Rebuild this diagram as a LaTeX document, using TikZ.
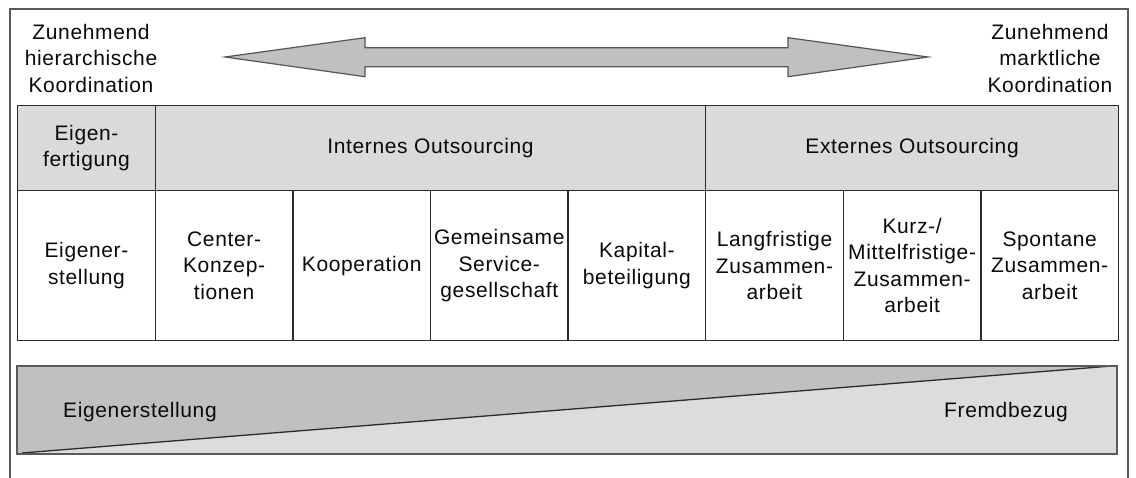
\documentclass[tikz,border=0pt]{standalone}
\usepackage{fontspec}
\setmainfont{Liberation Sans}[LetterSpace=3]
\definecolor{linecol}{HTML}{2B2B2B}
\definecolor{framecol}{HTML}{5A5A5A}
\definecolor{headfill}{HTML}{DADADA}
\definecolor{darkfill}{HTML}{C0C0C0}
\definecolor{lightfill}{HTML}{DCDCDC}
\definecolor{txtcol}{HTML}{0A0A0A}
\begin{document}
\begin{tikzpicture}[x=1pt,y=-1pt,
  every node/.style={font=\fontsize{21}{26.5}\selectfont, text=txtcol, align=center, inner sep=0pt},
  cell/.style={draw=linecol, line width=1.4pt, minimum height=150pt, minimum width=137.6pt, anchor=north west},
  headcell/.style={cell, fill=headfill, minimum height=85pt},
  arrowshape/.style={draw=linecol!80, line width=1.2pt, fill=darkfill, line join=miter},
  band/.style={draw=framecol, line width=1.2pt}
]
% canvas
\useasboundingbox (0,0) rectangle (1136,478);
\fill[white] (0,0) rectangle (1136,478);
% open frame around the figure
\draw[framecol, line width=1.3pt] (10,478) -- (10,9) -- (1128,9) -- (1128,478);

% labels at both ends of the scale
\node (hier) at (91,58) {Zunehmend\\hierarchische\\Koordination};
\node (markt) at (1050,58) {Zunehmend\\marktliche\\Koordination};

% double-headed arrow between the two poles
\coordinate (tipL) at (225,57);
\coordinate (tipR) at (928,57);
\draw[arrowshape] (tipL) -- (365,37.7) -- (365,47.7) -- (788,47.7) -- (788,37.7)
  -- (tipR) -- (788,76.7) -- (788,66.7) -- (365,66.7) -- (365,76.7) -- cycle;

% header row
\node[headcell] (eigenf) at (17,105) {Eigen-\\fertigung};
\node[headcell, minimum width=550.4pt] (intern) at (154.6,105) {Internes Outsourcing};
\node[headcell, minimum width=412.8pt] (extern) at (705,105) {Externes Outsourcing};

% body row
\node[cell] (c1) at (17,190) {Eigener-\\stellung};
\node[cell] (c2) at (154.6,190) {Center-\\Konzep-\\tionen};
\node[cell] (c3) at (292.2,190) {Kooperation};
\node[cell] (c4) at (429.8,190) {Gemeinsame\\Service-\\gesellschaft};
\node[cell] (c5) at (567.4,190) {Kapital-\\beteiligung};
\node[cell] (c6) at (705,190) {Langfristige\\Zusammen-\\arbeit};
\node[cell] (c7) at (842.6,190) {Kurz-/\\Mittelfristige-\\Zusammen-\\arbeit};
\node[cell] (c8) at (980.2,190) {Spontane\\Zusammen-\\arbeit};

% wedge band: own production vs. external sourcing
\fill[darkfill] (17,366) -- (1112,366) -- (22,453) -- (17,454) -- cycle;
\fill[lightfill] (22,453) -- (1112,366) -- (1117,366) -- (1117,454) -- (17,454) -- cycle;
\draw[linecol, line width=1.3pt] (22,453) -- (1112,366);
\draw[band] (17,366) rectangle (1117,454);
\node[anchor=west] (eigen) at (63,412) {Eigenerstellung};
\node[anchor=east] (fremd) at (1068,412) {Fremdbezug};
\end{tikzpicture}
\end{document}
